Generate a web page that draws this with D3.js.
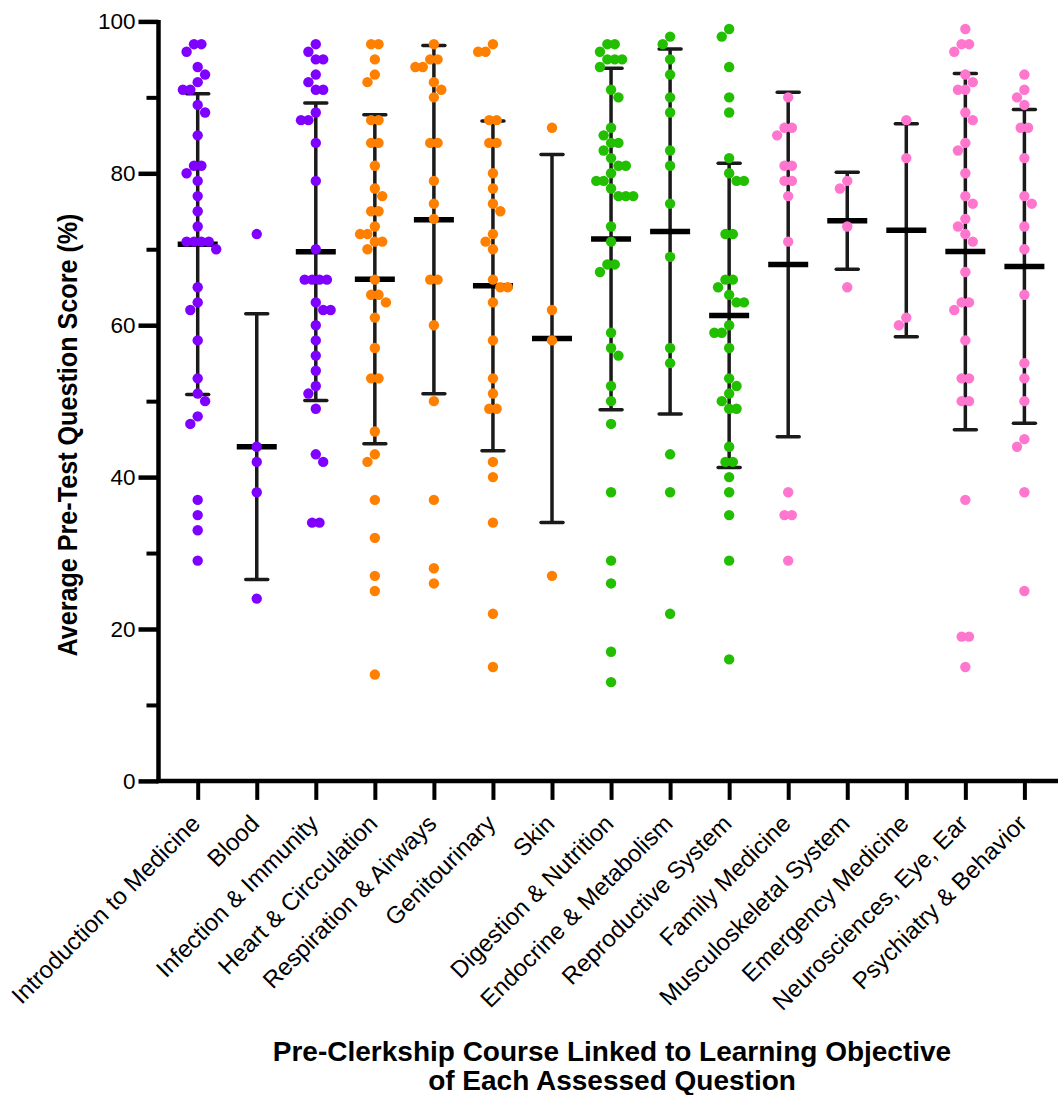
<!DOCTYPE html>
<html>
<head>
<meta charset="utf-8">
<script src="https://cdn.jsdelivr.net/npm/d3@7"></script>
<style>
  html, body { margin: 0; padding: 0; background: #ffffff; }
  svg { display: block; font-family: "Liberation Sans", Arial, Helvetica, sans-serif; }
</style>
</head>
<body>
<svg id="chart" width="1060" height="1095"></svg>
<script>
// Pre-clerkship courses (x categories)
const categories = [
  "Introduction to Medicine", "Blood", "Infection & Immunity", "Heart & Circculation",
  "Respiration & Airways", "Genitourinary", "Skin", "Digestion & Nutrition",
  "Endocrine & Metabolism", "Reproductive System", "Family Medicine",
  "Musculoskeletal System", "Emergency Medicine", "Neurosciences, Eye, Ear",
  "Psychiatry & Behavior"
];

// Average pre-test score (%) of each assessed question, per course
const introMedicine = [97,97,96,94,93,92,91,91,89,88,85,81,81,80,79,77,75,73,71,71,71,71,70,65,63,62,58,53,51,50,48,47,37,35,33,29];
const blood = [72,44,42,38,24];
const infectionImmunity = [97,96,95,95,93,92,91,91,88,87,87,84,79,70,66,66,66,66,63,62,62,60,58,56,54,52,51,49,43,42,34,34];
const heartCirculation = [97,97,95,93,92,87,87,84,84,81,78,77,75,75,73,72,72,71,71,70,66,64,64,63,61,57,53,53,46,43,42,37,32,27,25,14];
const respirationAirways = [97,95,95,94,94,92,91,90,84,84,79,76,74,66,66,60,50,37,28,26];
const genitourinary = [97,96,96,87,87,84,84,80,78,76,75,72,71,70,66,65,65,63,58,53,51,49,49,42,40,34,22,15];
const skin = [86,62,58,27];
const digestionNutrition = [97,97,96,95,95,95,94,91,90,86,85,84,84,83,82,81,81,80,79,79,78,77,77,77,73,71,68,68,67,59,57,56,52,50,47,38,29,26,17,13];
const endocrineMetabolism = [98,97,95,93,90,88,83,81,76,69,57,55,43,38,22];
const reproductiveSystem = [99,98,94,90,88,82,80,79,79,72,72,66,66,65,64,63,63,60,59,59,57,53,52,51,50,49,49,44,42,42,40,38,35,29,16];
const familyMedicine = [90,86,86,85,81,81,79,79,77,71,38,35,35,29];
const musculoskeletal = [79,78,73,65];
const emergencyMedicine = [87,82,61,60];
const neurosciences = [99,97,97,96,93,92,91,91,88,87,84,83,80,77,76,74,73,72,71,67,63,63,62,58,53,53,50,50,37,19,19,15];
const psychiatryBehavior = [93,91,90,89,86,86,82,77,76,73,70,64,55,53,50,45,44,38,25];

const seriesValues = [
  introMedicine, blood, infectionImmunity, heartCirculation, respirationAirways,
  genitourinary, skin, digestionNutrition, endocrineMetabolism, reproductiveSystem,
  familyMedicine, musculoskeletal, emergencyMedicine, neurosciences, psychiatryBehavior
];

// Course block of each category (colour group)
const courseBlock = [0,0,0,1,1,1,1,2,2,2,3,3,3,3,3];
const blockColors = ["#8000ff", "#ff8000", "#22bf00", "#ff76cf"];

const yMajorTicks = [0, 20, 40, 60, 80, 100];
const yMinorTicks = [10, 30, 50, 70, 90];

const svg = d3.select("#chart");

const x = d3.scalePoint().domain(categories).range([197.7, 1024.4]);
const y = d3.scaleLinear().domain([0, 100]).range([780.9, 21.4]);

const dotR = 5.2;
const unit = 3.7;       // half of the horizontal spacing between side-by-side dots
const gapX = 7.4;       // horizontal clearance for dots on the same row
const gapY = 10;        // vertical clearance for dots in the same column

// Spread dots of one column sideways so they don't pile on top of each other;
// sideways shifts alternate between left and right to keep the column balanced
function swarm(values) {
  const groups = d3.groups(values, v => v).sort((a, b) => b[0] - a[0]);
  const placed = [];
  let lastSign = 1;
  const clash = (o, py) => placed.some(p => ((o - p.dx) / gapX) ** 2 + ((py - p.y) / gapY) ** 2 < 0.999);
  groups.forEach(([v, arr]) => {
    const n = arr.length;
    const py = y(v);
    const base = d3.range(n).map(i => (i - (n - 1) / 2) * 2 * unit);
    const shifts = [0];
    for (let m = 1; m < 30; m++) shifts.push(-lastSign * m * unit, lastSign * m * unit);
    for (const s of shifts) {
      const offs = base.map(o => o + s);
      if (!offs.some(o => clash(o, py))) {
        offs.forEach(o => placed.push({ v, dx: o, y: py }));
        if (s !== 0) lastSign = Math.sign(s);
        break;
      }
    }
  });
  return placed;
}

// ---- axes ----
const axisColor = "#000";

// Y axis with labelled major ticks and short minor ticks
const yAxisG = svg.append("g").attr("transform", "translate(158.5,0)");
yAxisG.call(d3.axisLeft(y).tickValues(yMajorTicks).tickSize(20).tickPadding(3).tickFormat(d3.format("d")));
yAxisG.select(".domain").remove();
yAxisG.selectAll(".tick line").attr("stroke", axisColor).attr("stroke-width", 4.5);
yAxisG.selectAll(".tick text")
  .attr("font-size", 22.5).attr("fill", "#000")
  .attr("font-family", "'Liberation Sans', Arial, sans-serif");

const yMinorG = svg.append("g").attr("transform", "translate(158.5,0)");
yMinorG.call(d3.axisLeft(y).tickValues(yMinorTicks).tickSize(12).tickFormat(""));
yMinorG.select(".domain").remove();
yMinorG.selectAll(".tick line").attr("stroke", axisColor).attr("stroke-width", 4);

// X axis ticks
const xAxisG = svg.append("g").attr("transform", `translate(0,${y(0)})`);
xAxisG.call(d3.axisBottom(x).tickSize(19).tickFormat(""));
xAxisG.select(".domain").remove();
xAxisG.selectAll(".tick line").attr("stroke", axisColor).attr("stroke-width", 4);

// Axis lines
svg.append("line")
  .attr("x1", 158.5).attr("x2", 158.5)
  .attr("y1", y(100) - 1.5).attr("y2", y(0) + 2)
  .attr("stroke", axisColor).attr("stroke-width", 4.5);
svg.append("line")
  .attr("x1", 156).attr("x2", 1058)
  .attr("y1", y(0)).attr("y2", y(0))
  .attr("stroke", axisColor).attr("stroke-width", 4.5);

// Category labels, rotated
svg.append("g").selectAll("text")
  .data(categories)
  .join("text")
  .attr("transform", d => `translate(${x(d) + 4},825) rotate(-45)`)
  .attr("text-anchor", "end")
  .attr("font-size", 24)
  .attr("fill", "#000")
  .text(d => d);

// Axis titles
svg.append("text")
  .attr("transform", "translate(77,435) rotate(-90)")
  .attr("text-anchor", "middle")
  .attr("font-size", 27)
  .attr("font-weight", "bold")
  .attr("textLength", 443)
  .attr("lengthAdjust", "spacingAndGlyphs")
  .text("Average Pre-Test Question Score (%)");

svg.append("text")
  .attr("x", 612).attr("y", 1061)
  .attr("text-anchor", "middle")
  .attr("font-size", 28)
  .attr("font-weight", "bold")
  .text("Pre-Clerkship Course Linked to Learning Objective");
svg.append("text")
  .attr("x", 612).attr("y", 1090)
  .attr("text-anchor", "middle")
  .attr("font-size", 28)
  .attr("font-weight", "bold")
  .text("of Each Assessed Question");

// ---- mean ± SD bars ----
const stats = categories.map((c, i) => {
  const vals = seriesValues[i];
  const m = d3.mean(vals);
  const sd = d3.deviation(vals);
  return { c, m, lo: m - sd, hi: m + sd };
});

const barColor = "#1a1a1a";
const bars = svg.append("g");
stats.forEach(s => {
  const cx = x(s.c);
  bars.append("line")
    .attr("x1", cx).attr("x2", cx).attr("y1", y(s.hi)).attr("y2", y(s.lo))
    .attr("stroke", barColor).attr("stroke-width", 3.5);
  [s.hi, s.lo].forEach(v => {
    bars.append("line")
      .attr("x1", cx - 11).attr("x2", cx + 11).attr("y1", y(v)).attr("y2", y(v))
      .attr("stroke", barColor).attr("stroke-width", 3.5).attr("stroke-linecap", "round");
  });
  bars.append("line")
    .attr("x1", cx - 20).attr("x2", cx + 20).attr("y1", y(s.m)).attr("y2", y(s.m))
    .attr("stroke", "#000").attr("stroke-width", 5.5);
});

// ---- question dots ----
const dots = svg.append("g");
categories.forEach((c, i) => {
  const pts = swarm(seriesValues[i]);
  dots.selectAll(null)
    .data(pts)
    .join("circle")
    .attr("cx", p => x(c) + p.dx)
    .attr("cy", p => p.y)
    .attr("r", dotR)
    .attr("fill", blockColors[courseBlock[i]]);
});
</script>
</body>
</html>
